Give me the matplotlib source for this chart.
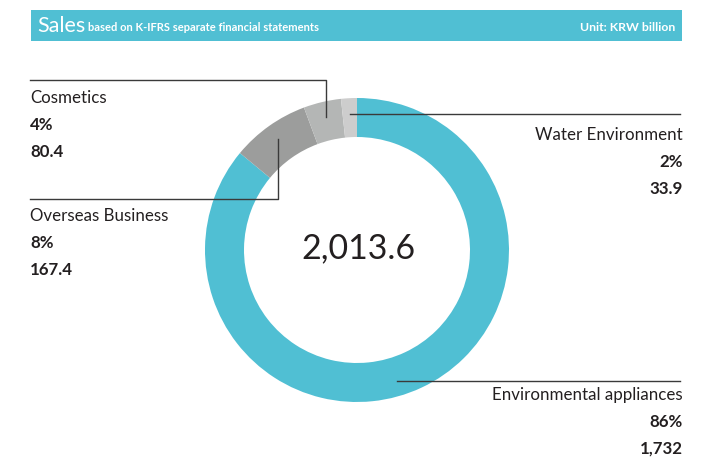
import numpy as np
import matplotlib
matplotlib.use('Agg')
from matplotlib import pyplot as plt
from matplotlib.patches import Rectangle

# data
labels = ['Environmental appliances', 'Overseas Business', 'Cosmetics', 'Water Environment']
values = [1732, 167.4, 80.4, 33.9]
pct_labels = ['86%', '8%', '4%', '2%']
val_labels = ['1,732', '167.4', '80.4', '33.9']
total_label = '2,013.6'
colors = ['#50BFD3', '#9C9D9C', '#B4B6B5', '#CDCDCD']

plt.rcParams['font.family'] = ['Lato', 'DejaVu Sans']
W, H = 720, 459
fig = plt.figure(figsize=(W / 100, H / 100), dpi=100)
ax = fig.add_axes([0, 0, 1, 1])


def Y(y):
    # pixel rows from top -> data y
    return H - y


# donut
cx, cy, R, w = 357, Y(250), 152, 39
ax.pie(values, colors=colors, startangle=90, counterclock=False,
       center=(cx, cy), radius=R, frame=True,
       wedgeprops=dict(width=w, linewidth=0))
ax.set_xlim(0, W)
ax.set_ylim(0, H)
ax.set_aspect('equal')
ax.axis('off')
ax.text(cx + 1, cy + 2, total_label, fontsize=24.5, color='#231F20',
        ha='center', va='center')

# header bar
ax.add_patch(Rectangle((31, Y(41)), 651, 31.5, color='#50BFD3', lw=0))
ax.text(37, Y(26), 'Sales', color='white', fontsize=15.5, va='center')
ax.text(88, Y(27.5), 'based on K-IFRS separate financial statements',
        color='white', fontsize=8, fontweight='bold', va='center')
ax.text(675, Y(27.5), 'Unit: KRW billion', color='white', fontsize=8.8,
        fontweight='bold', va='center', ha='right')

# mid angles (clockwise from top)
frac = np.array(values) / sum(values)
ends = np.cumsum(frac) * 360
mids = ends - frac * 180
rm = R - w / 2 + 4


def anchor(deg):
    a = np.deg2rad(deg)
    return cx + rm * np.sin(a), cy + rm * np.cos(a)


lc = '#3A3A3A'
# Cosmetics (left, upper)
ax_, ay_ = anchor(mids[2])
ax.plot([30, ax_, ax_], [Y(80), Y(80), ay_], color=lc, lw=1)
# Overseas Business (left, lower)
bx, by = anchor(mids[1])
ax.plot([30, bx, bx], [Y(199), Y(199), by], color=lc, lw=1)
# Water Environment (right, upper)
wx, wy = anchor(mids[3])
ax.plot([wx, 680], [wy, wy], color=lc, lw=1)
# Environmental appliances (right, lower)
ex, ey = anchor(163)
ax.plot([ex, 680], [ey, ey], color=lc, lw=1)

tc = '#231F20'


def block(x, y, i, ha):
    ax.text(x, Y(y), labels[i], fontsize=12.2, color=tc, ha=ha, va='center')
    ax.text(x, Y(y + 27), pct_labels[i], fontsize=12.2, color=tc, ha=ha,
            va='center', fontweight='bold')
    ax.text(x, Y(y + 54), val_labels[i], fontsize=12.2, color=tc, ha=ha,
            va='center', fontweight='bold')


block(30, 98, 2, 'left')
block(30, 216, 1, 'left')
block(683, 135, 3, 'right')
block(683, 395, 0, 'right')

fig.savefig('out.png', dpi=100)
